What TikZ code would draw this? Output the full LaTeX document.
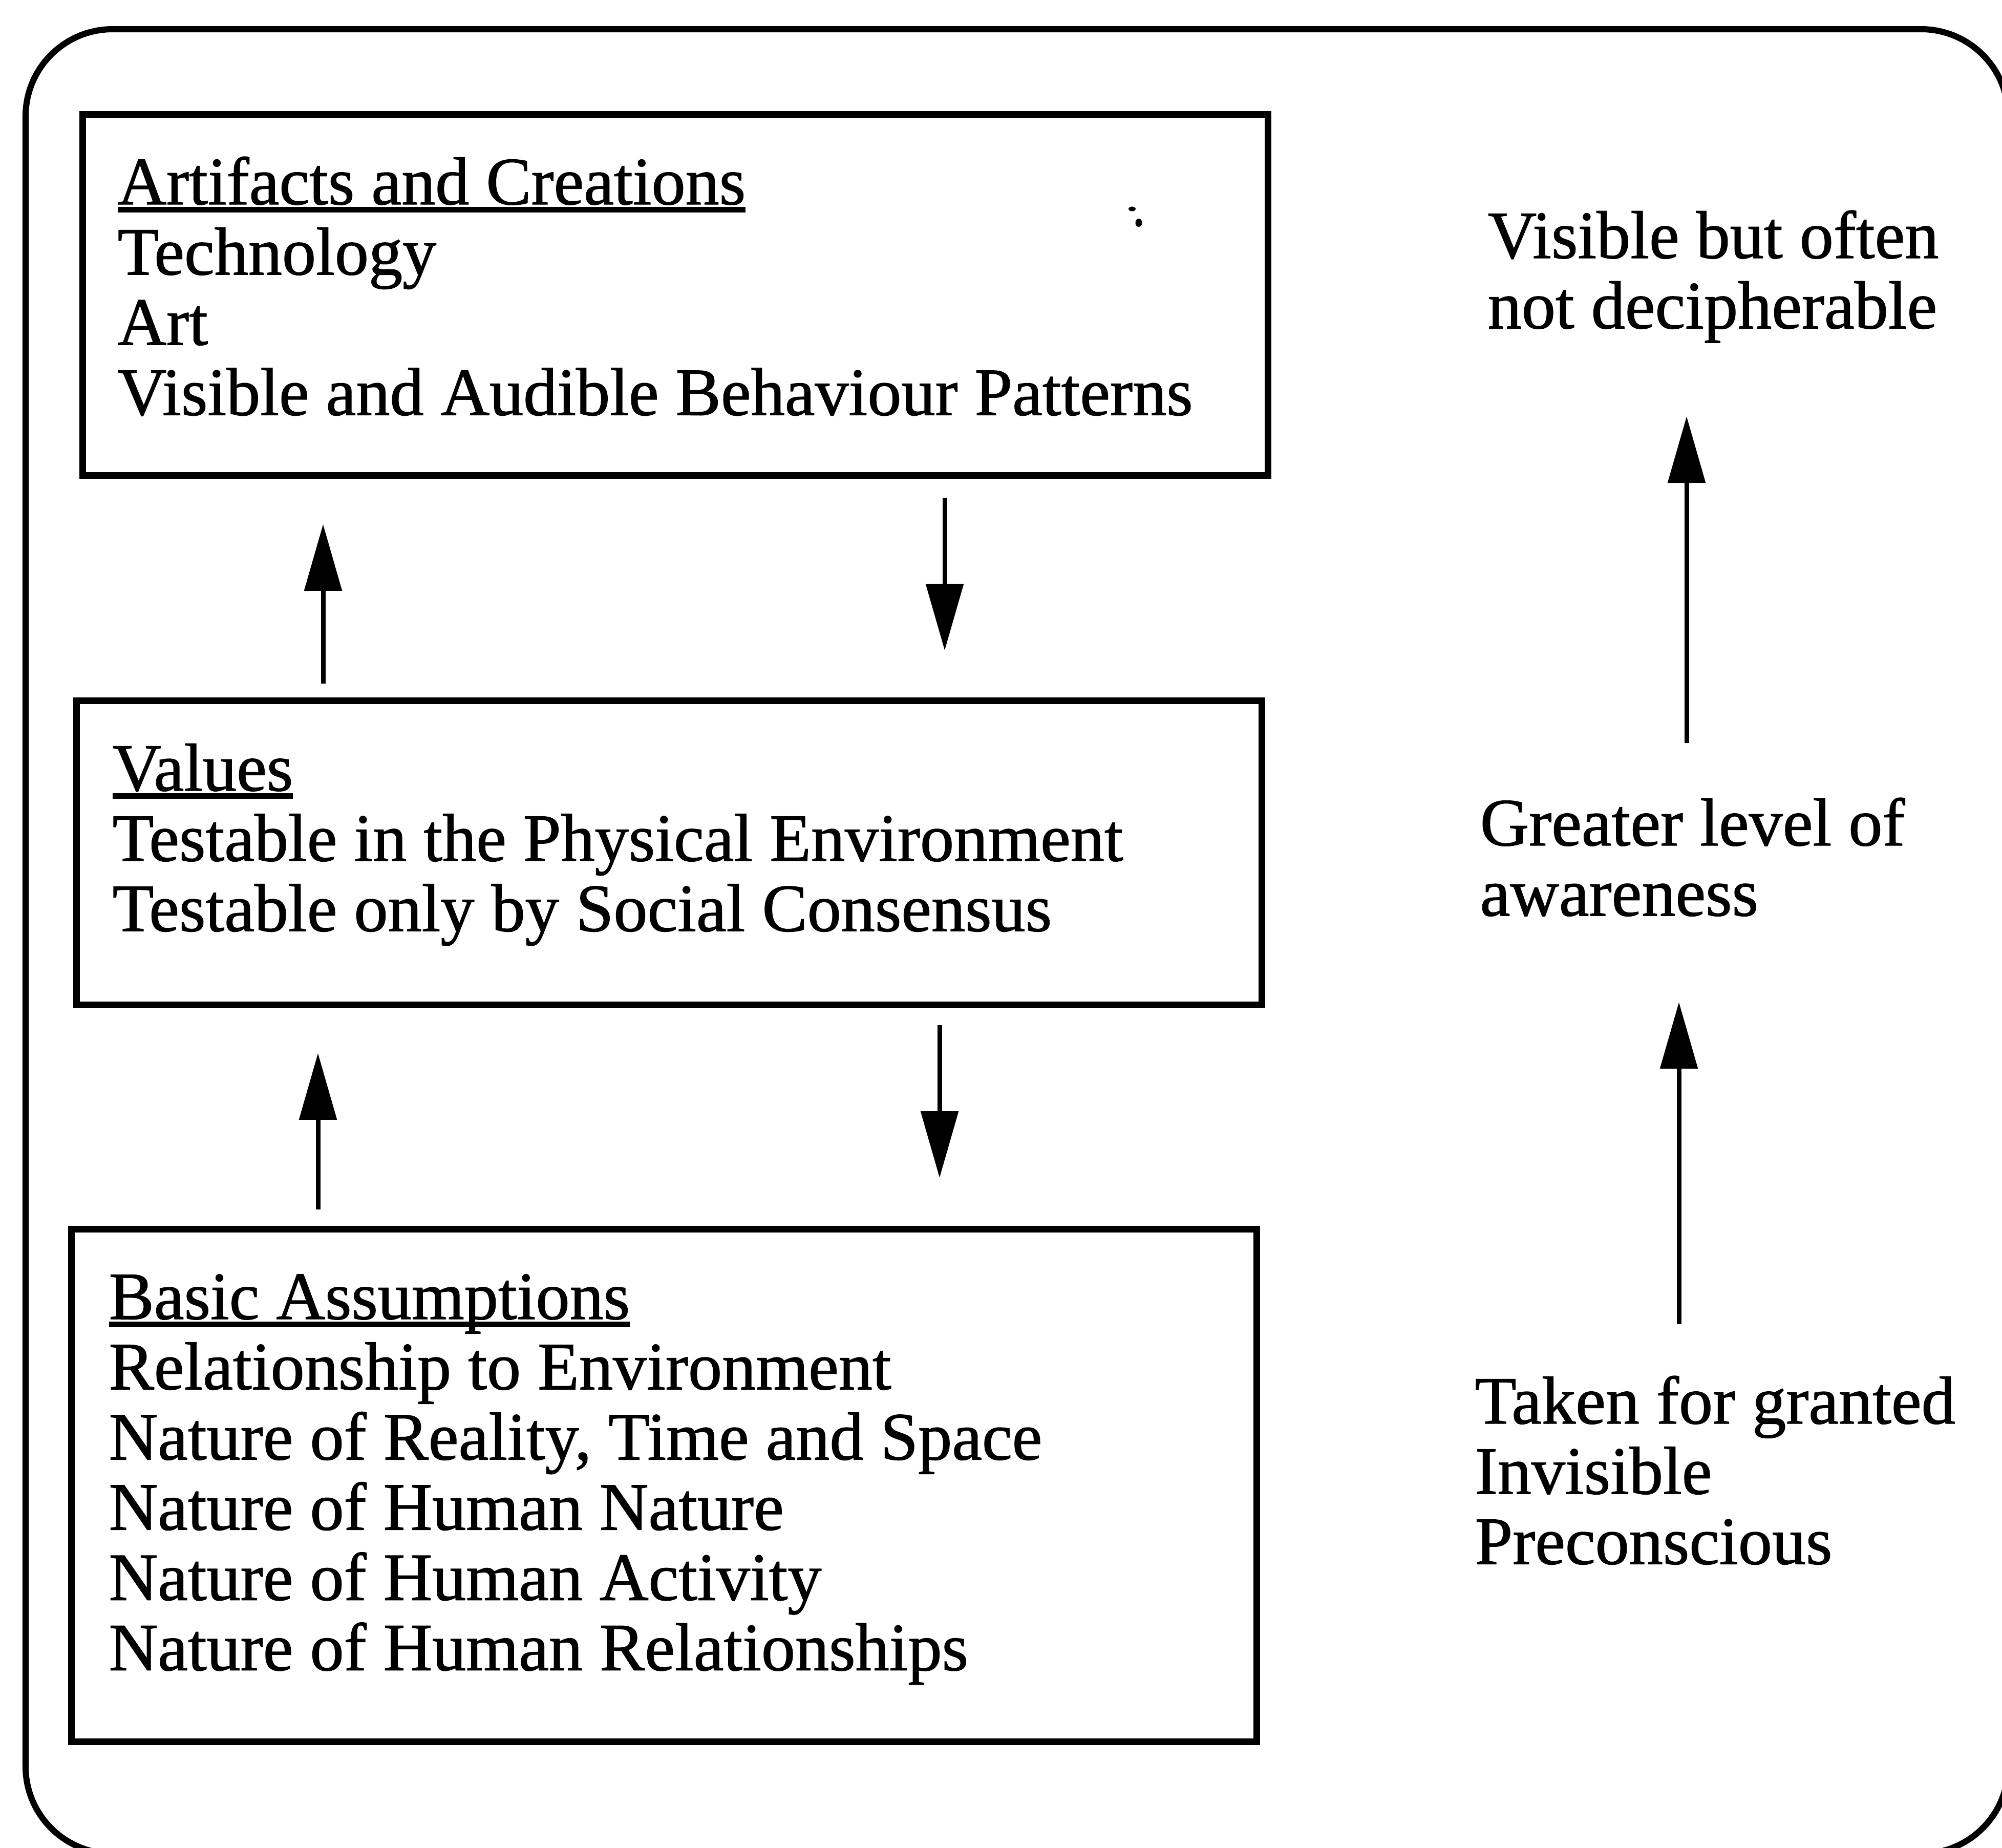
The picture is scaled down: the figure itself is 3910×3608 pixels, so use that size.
\documentclass[tikz,border=0pt]{standalone}
\usepackage{fontspec}
\setmainfont{Liberation Serif}[FakeBold=1]
\usetikzlibrary{arrows.meta}
% heading underline: a rule just below the baseline
\newsavebox{\ulheadbox}
\newcommand{\ulhead}[1]{\sbox{\ulheadbox}{#1}\rlap{\rule[-4.5pt]{\wd\ulheadbox}{3pt}}\usebox{\ulheadbox}}
\begin{document}
\begin{tikzpicture}[x=0.01cm, y=-0.01cm,
  every node/.style={font=\fontsize{37.6}{39}\selectfont},
  layerbox/.style={draw, line width=0.13cm, inner sep=0pt, minimum width=23.14cm},
  layertext/.style={anchor=base west, inner sep=0pt},
  arr/.style={line width=0.09cm, -{Triangle[length=1.3cm, width=0.72cm]}},
  outerframe/.style={line width=0.12cm, rounded corners=1.7cm}]

\useasboundingbox (0,0) rectangle (3910,3608);

% rounded outer frame
\draw[outerframe] (50,57) rectangle (3922,3620);

% the three layers
\node[layerbox, minimum height=7.04cm] (art) at (1319,576) {};
\node[layerbox, minimum height=5.93cm] (val) at (1307,1665.5) {};
\node[layerbox, minimum height=10cm]   (bas) at (1297,2901) {};

\node[layertext] (artT) at (229,399) {\begin{tabular}[t]{@{}l@{}}
  \ulhead{Artifacts and Creations}\\
  Technology\\
  Art\\
  Visible and Audible Behaviour Patterns\end{tabular}};

\node[layertext] (valT) at (219,1544) {\begin{tabular}[t]{@{}l@{}}
  \ulhead{Values}\\
  Testable in the Physical Environment\\
  Testable only by Social Consensus\end{tabular}};

\node[layertext] (basT) at (212,2576) {\begin{tabular}[t]{@{}l@{}}
  \ulhead{Basic Assumptions}\\
  Relationship to Environment\\
  Nature of Reality, Time and Space\\
  Nature of Human Nature\\
  Nature of Human Activity\\
  Nature of Human Relationships\end{tabular}};

% level annotations on the right
\node[layertext] (visT) at (2905,504) {\begin{tabular}[t]{@{}l@{}}
  Visible but often\\
  not decipherable\end{tabular}};

\node[layertext] (grtT) at (2890,1651) {\begin{tabular}[t]{@{}l@{}}
  Greater level of\\
  awareness\end{tabular}};

\node[layertext] (takT) at (2880,2780) {\begin{tabular}[t]{@{}l@{}}
  Taken for granted\\
  Invisible\\
  Preconscious\end{tabular}};

% arrows between the layers
\draw[arr, shorten <=0.27cm, shorten >=0.89cm] (val.north -| 631,0) -- (art.south -| 631,0);
\draw[arr, shorten <=0.37cm, shorten >=0.92cm] (art.south -| 1845,0) -- (val.north -| 1845,0);
\draw[arr, shorten <=0.32cm, shorten >=0.88cm] (bas.north -| 621,0) -- (val.south -| 621,0);
\draw[arr, shorten <=0.33cm, shorten >=0.94cm] (val.south -| 1835,0) -- (bas.north -| 1835,0);

% awareness arrows
\coordinate (r1s) at (3294,1451);
\coordinate (r1e) at (3294,813);
\coordinate (r2s) at (3279,2586);
\coordinate (r2e) at (3279,1957);
\draw[arr] (r1s) -- (r1e);
\draw[arr] (r2s) -- (r2e);

% small specks in the top box
\fill (2211,408) ellipse [x radius=0.07cm, y radius=0.045cm];
\fill (2224,435) ellipse [x radius=0.065cm, y radius=0.08cm];

\end{tikzpicture}
\end{document}
